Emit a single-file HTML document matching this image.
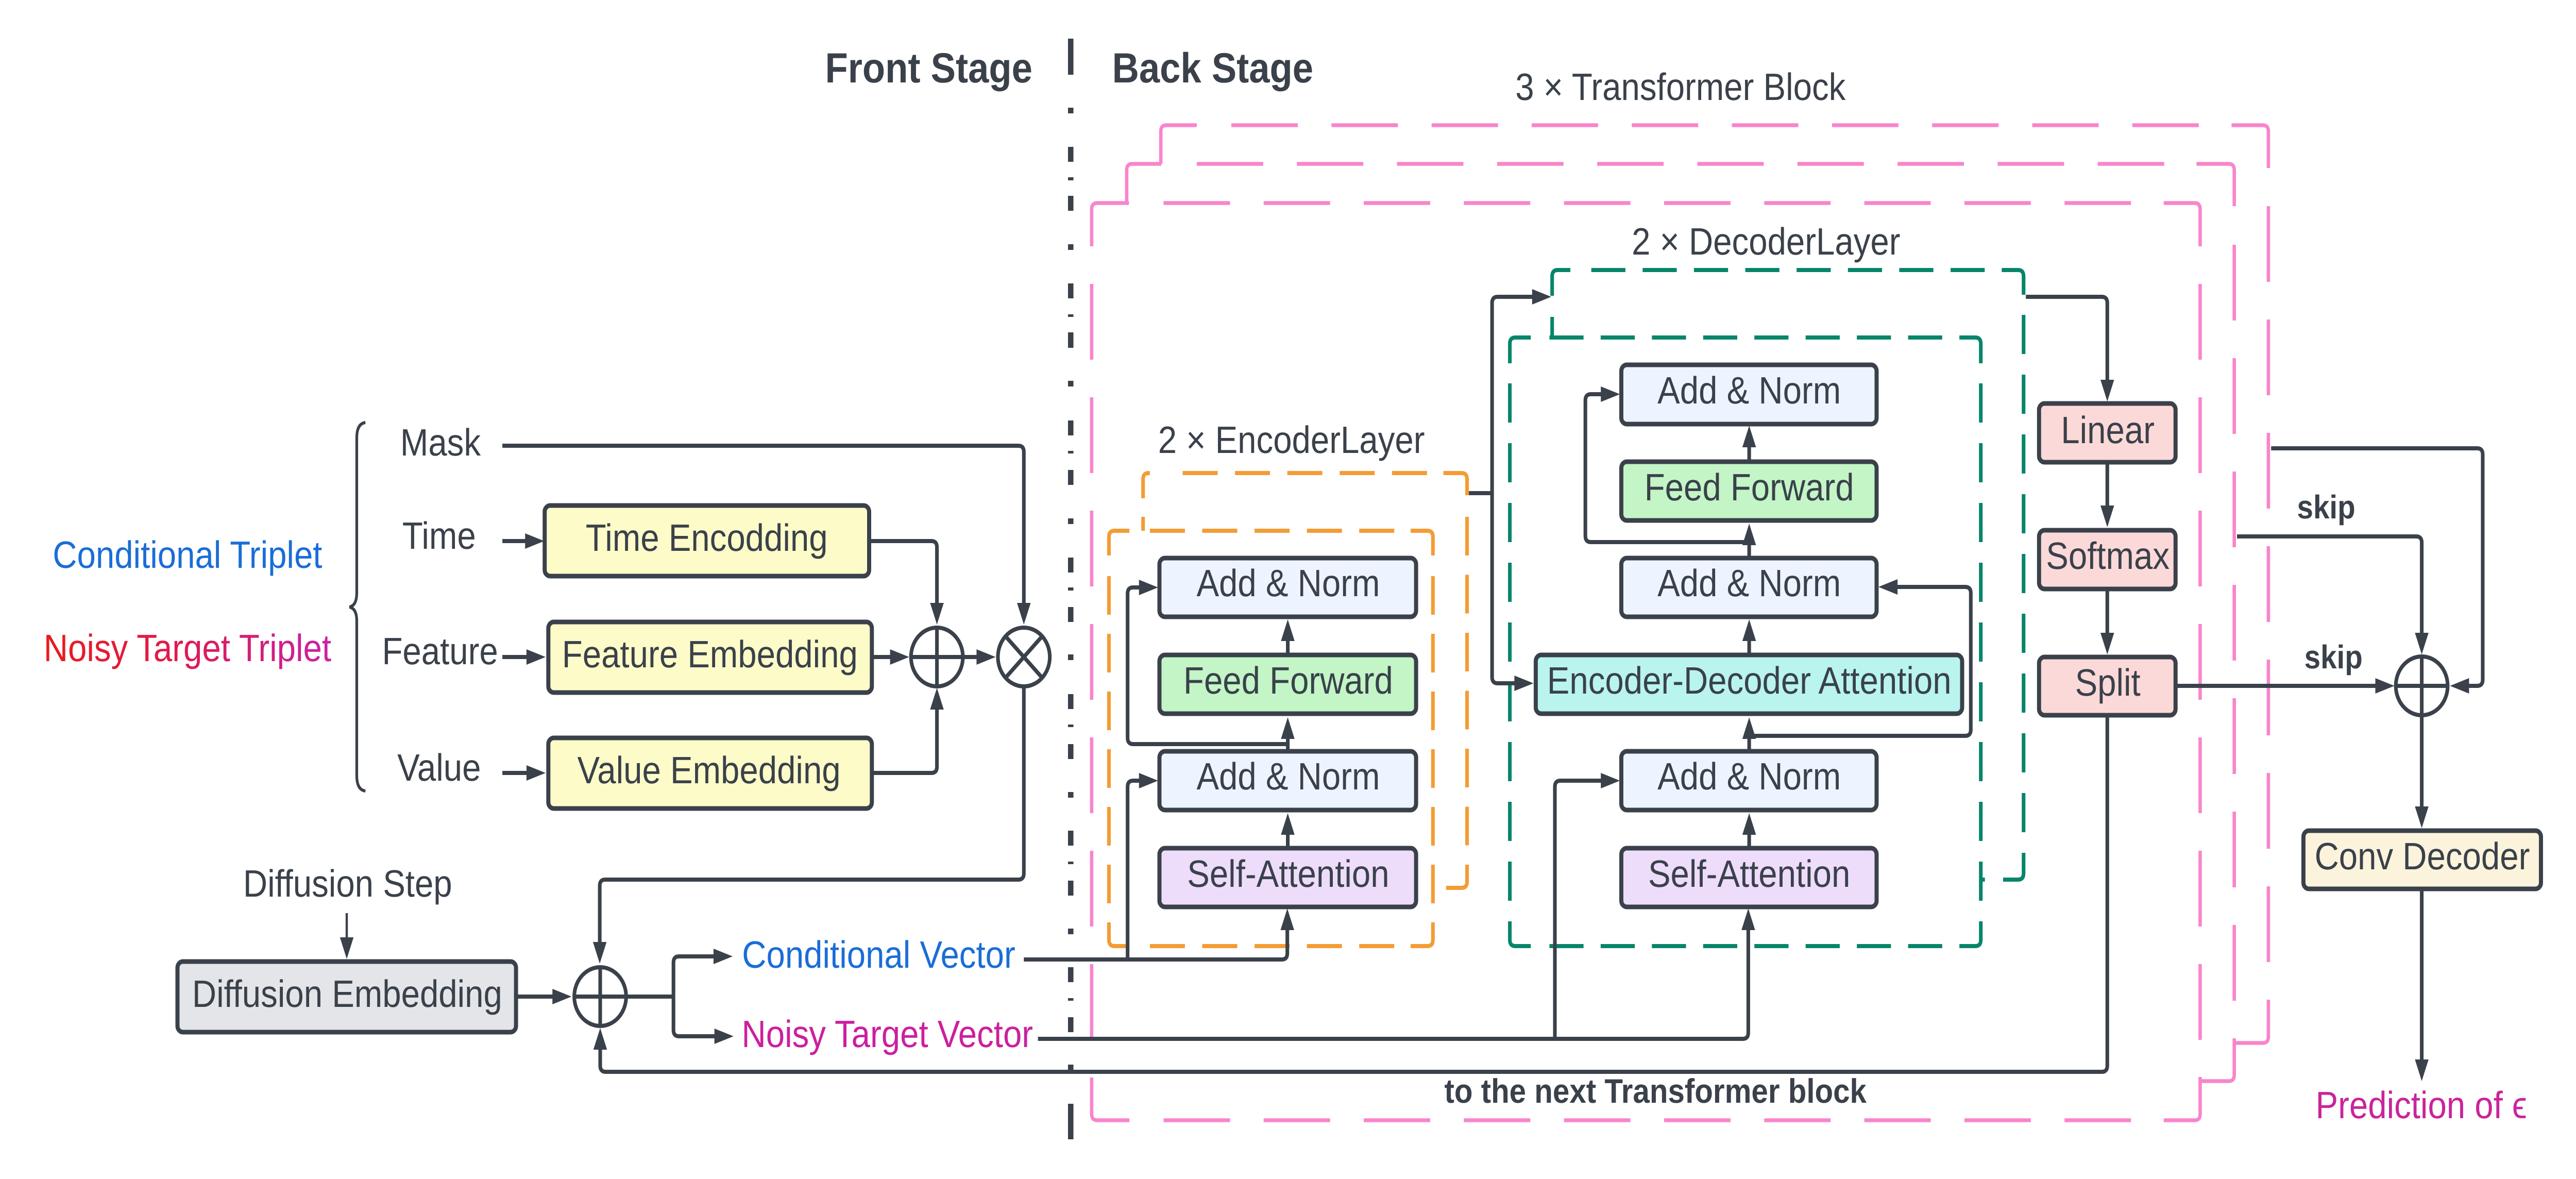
<!DOCTYPE html>
<html>
<head>
<meta charset="utf-8">
<style>
html,body{margin:0;padding:0;background:#fff;width:100%;height:100%;overflow:hidden}
svg{display:block;position:fixed;left:0;top:0;width:100vw;height:100vh}
text{font-family:"Liberation Sans",sans-serif;font-size:74px;fill:#3a414a;text-anchor:middle}
.b{font-weight:700}
.box{stroke:#3a414a;stroke-width:9}
.l{fill:none;stroke:#3a414a;stroke-width:8;stroke-linejoin:round}
.a{marker-end:url(#ah)}
.p{fill:none;stroke:#f985cc;stroke-width:7.5}
.o{fill:none;stroke:#f39c34;stroke-width:8}
.g{fill:none;stroke:#07856a;stroke-width:8}
.c{fill:#fff;stroke:#3a414a;stroke-width:8}
</style>
</head>
<body>
<svg viewBox="0 0 5661 2288" preserveAspectRatio="none" xmlns="http://www.w3.org/2000/svg" text-rendering="geometricPrecision">
<defs>
<marker id="ah" markerUnits="userSpaceOnUse" markerWidth="44" markerHeight="30" refX="22" refY="15" orient="auto" viewBox="0 0 44 30" overflow="visible"><path d="M0 0 L42 15 L0 30 Z" fill="#3a414a"/></marker>
<linearGradient id="grad" gradientUnits="userSpaceOnUse" x1="92" y1="0" x2="732" y2="0"><stop offset="0" stop-color="#ea1a1a"/><stop offset="0.45" stop-color="#e01a4a"/><stop offset="1" stop-color="#c822a8"/></linearGradient>
</defs>
<rect width="5661" height="2288" fill="#fff"/>

<!-- divider -->
<path fill="none" stroke="#3a414a" stroke-width="12" d="M2353 75V145M2353 209V220M2353 285V314M2353 344V350M2353 380V409M2353 474V485M2353 550V579M2353 610V615M2353 645V675M2353 739V750M2353 816V845M2353 875V880M2353 912V941M2353 1006V1017M2353 1082V1111M2353 1140V1146M2353 1178V1207M2353 1270V1281M2353 1347V1376M2353 1406V1411M2353 1444V1473M2353 1537V1548M2353 1612V1641M2353 1672V1677M2353 1709V1738M2353 1802V1813M2353 1877V1906M2353 1937V1942M2353 1974V2003M2353 2066V2079M2353 2142V2211"/>

<!-- pink frames -->
<path class="p" d="M2399 478V406Q2399 394 2411 394H2481M4755 394H4823Q4835 394 4835 406V478M2399 2093V2162Q2399 2174 2411 2174H2482M4755 2174H4823Q4835 2174 4835 2162V2090"/>
<path class="p" stroke-dasharray="146 74" d="M2557 394H4755M2557 2174H4755"/>
<path class="p" stroke-dasharray="147 73" d="M2399 551V2093M4835 551V2093"/>
<path class="p" d="M2476 394V330Q2476 318 2488 318H2552M4827 318H4898Q4910 318 4910 330V400M4910 2015V2086Q4910 2098 4898 2098H4835"/>
<path class="p" stroke-dasharray="146 74" d="M2630 318H4827"/>
<path class="p" stroke-dasharray="147 73" d="M4910 475V2015"/>
<path class="p" d="M2551 318V255Q2551 243 2563 243H2630M4904 243H4973Q4985 243 4985 255V326M4985 1940V2012Q4985 2024 4973 2024H4910"/>
<path class="p" stroke-dasharray="146 74" d="M2706 243H4904"/>
<path class="p" stroke-dasharray="147 73" d="M4985 400V1940"/>

<!-- orange frames -->
<path class="o" d="M2512 967V930Q2512 918 2524 918H2527M2512 1003V1030M3172 918H3212Q3224 918 3224 930V961M3224 1678V1711Q3224 1723 3212 1723H3178"/>
<path class="o" stroke-dasharray="77 38" d="M2599 918H3172"/>
<path class="o" stroke-dasharray="75 37.5" d="M3224 1003V1678"/>
<path class="o" d="M2437 1078V1042Q2437 1030 2449 1030H2482M3100 1030H3137Q3149 1030 3149 1042V1078M2437 1790V1824Q2437 1836 2449 1836H2482M3100 1836H3137Q3149 1836 3149 1824V1790"/>
<path class="o" stroke-dasharray="77 38" d="M2527 1030H3100M2527 1836H3100"/>
<path class="o" stroke-dasharray="75 37" d="M2437 1118V1790M3149 1118V1790"/>

<!-- green frames -->
<path class="g" d="M3411 574V536Q3411 524 3423 524H3451M3411 615V655M4399 524H4435Q4447 524 4447 536V572M4447 1656V1695Q4447 1707 4435 1707H4402M4353 1707H4362"/>
<path class="g" stroke-dasharray="75 37.8" d="M3497 524H4399"/>
<path class="g" stroke-dasharray="76 40" d="M4447 611V1656"/>
<path class="g" d="M3318 705V667Q3318 655 3330 655H3364M4306 655H4341Q4353 655 4353 667V705M3318 1788V1824Q3318 1836 3330 1836H3364M4306 1836H4341Q4353 1836 4353 1824V1788"/>
<path class="g" stroke-dasharray="75 37.6" d="M3405 655H4306M3405 1836H4306"/>
<path class="g" stroke-dasharray="76 40" d="M3318 744V1788M4353 744V1788"/>

<!-- brace -->
<path fill="none" stroke="#3a414a" stroke-width="6" d="M803 820Q784 822 784 850V1150Q784 1175 768 1178Q784 1181 784 1205V1505Q784 1533 803 1535"/>

<!-- connectors -->
<path class="l a" d="M1104 865H2238Q2250 865 2250 877V1192"/>
<path class="l a" d="M1104 1050H1176"/>
<path class="l a" d="M1104 1275H1179"/>
<path class="l a" d="M1104 1500H1179"/>
<path class="l a" d="M1910 1050H2047Q2059 1050 2059 1062V1192"/>
<path class="l a" d="M1916 1275H1978"/>
<path class="l a" d="M2115 1275H2168"/>
<path class="l a" d="M1916 1500H2047Q2059 1500 2059 1488V1355"/>
<path class="l a" d="M2250 1332V1695Q2250 1707 2238 1707H1330Q1318 1707 1318 1719V1850"/>
<path class="l a" style="stroke-width:5" d="M762 1772V1841"/>
<path class="l a" d="M1134 1934H1236"/>
<path class="l" d="M1376 1934H1480"/>
<path class="l a" d="M1480 1934V1868Q1480 1856 1492 1856H1590"/>
<path class="l a" d="M1480 1934V1999Q1480 2011 1492 2011H1592"/>
<path class="l a" d="M4631 1388V2068Q4631 2080 4619 2080H1331Q1319 2080 1319 2068V2015"/>
<path class="l a" d="M2250 1862H2817Q2829 1862 2829 1850V1783"/>
<path class="l a" d="M2478 1862V1527Q2478 1515 2490 1515H2525"/>
<path class="l a" d="M2281 2016H3830Q3842 2016 3842 2004V1783"/>
<path class="l a" d="M3417 2016V1527Q3417 1515 3429 1515H3540"/>
<path class="l a" d="M2830 1646V1598"/>
<path class="l a" d="M2830 1458V1412"/>
<path class="l a" d="M2830 1271V1222"/>
<path class="l a" d="M2830 1444H2490Q2478 1444 2478 1432V1152Q2478 1140 2490 1140H2525"/>
<path class="l a" d="M3844 1646V1598"/>
<path class="l a" d="M3844 1458V1412"/>
<path class="l a" d="M3844 1271V1222"/>
<path class="l a" d="M3844 1083V1036"/>
<path class="l a" d="M3844 896V846"/>
<path class="l a" d="M3844 1052H3496Q3484 1052 3484 1040V777Q3484 765 3496 765H3540"/>
<path class="l" d="M3228 957H3279"/>
<path class="l a" d="M3279 957V588Q3279 576 3291 576H3389"/>
<path class="l a" d="M3279 957V1314Q3279 1326 3291 1326H3350"/>
<path class="l a" d="M3851 1428H4319Q4331 1428 4331 1416V1151Q4331 1139 4319 1139H4148"/>
<path class="l a" d="M4452 576H4619Q4631 576 4631 588V759"/>
<path class="l a" d="M4631 897V1003"/>
<path class="l a" d="M4631 1143V1250"/>
<path class="l a" d="M4781 1331H5242"/>
<path class="l a" d="M5322 1389V1587"/>
<path class="l a" d="M5322 1725V2078"/>
<path class="l a" d="M4916 1041H5310Q5322 1041 5322 1053V1250"/>
<path class="l a" d="M4991 870H5444Q5456 870 5456 882V1319Q5456 1331 5444 1331H5404"/>

<!-- circles -->
<circle class="c" cx="2059" cy="1275" r="57"/><path class="l" d="M2002 1275H2116M2059 1218V1332"/>
<circle class="c" cx="2250" cy="1275" r="57"/><path class="l" d="M2210 1235L2290 1315M2290 1235L2210 1315"/>
<circle class="c" cx="1319" cy="1934" r="57"/><path class="l" d="M1262 1934H1376M1319 1877V1991"/>
<circle class="c" cx="5322" cy="1331" r="57"/><path class="l" d="M5265 1331H5379M5322 1274V1388"/>

<!-- boxes -->
<rect class="box" x="1197" y="981" width="713" height="137" rx="12" fill="#fdfcc9"/>
<rect class="box" x="1205" y="1207" width="711" height="137" rx="12" fill="#fdfcc9"/>
<rect class="box" x="1205" y="1432" width="711" height="137" rx="12" fill="#fdfcc9"/>
<rect class="box" x="390" y="1866" width="744" height="137" rx="12" fill="#e3e5e9"/>

<rect class="box" x="2548" y="1083" width="564" height="114" rx="12" fill="#eef4ff"/>
<rect class="box" x="2548" y="1271" width="564" height="114" rx="12" fill="#c3f5c7"/>
<rect class="box" x="2548" y="1458" width="564" height="114" rx="12" fill="#eef4ff"/>
<rect class="box" x="2548" y="1646" width="564" height="114" rx="12" fill="#eedcfb"/>

<rect class="box" x="3563" y="708" width="561" height="115" rx="12" fill="#eef4ff"/>
<rect class="box" x="3563" y="896" width="561" height="114" rx="12" fill="#c3f5c7"/>
<rect class="box" x="3563" y="1083" width="561" height="114" rx="12" fill="#eef4ff"/>
<rect class="box" x="3375" y="1271" width="937" height="114" rx="12" fill="#b9f4ee"/>
<rect class="box" x="3563" y="1458" width="561" height="114" rx="12" fill="#eef4ff"/>
<rect class="box" x="3563" y="1646" width="561" height="114" rx="12" fill="#eedcfb"/>

<rect class="box" x="4481" y="783" width="300" height="114" rx="12" fill="#fcd9d9"/>
<rect class="box" x="4481" y="1029" width="300" height="114" rx="12" fill="#fcd9d9"/>
<rect class="box" x="4481" y="1275" width="300" height="113" rx="12" fill="#fcd9d9"/>
<rect class="box" x="5062" y="1612" width="522" height="113" rx="12" fill="#fbf3dc"/>

<!-- text -->
<text class="b" style="font-size:82px" x="2041" y="160">Front Stage</text>
<text class="b" style="font-size:82px" x="2665" y="160">Back Stage</text>
<text x="3693" y="194">3 × Transformer Block</text>
<text x="3881" y="494">2 × DecoderLayer</text>
<text x="2838" y="879">2 × EncoderLayer</text>
<text x="968" y="884">Mask</text>
<text x="965" y="1065">Time</text>
<text x="967" y="1289">Feature</text>
<text x="965" y="1515">Value</text>
<text x="412" y="1102" style="fill:#1a6dd8">Conditional Triplet</text>
<text x="412" y="1283" style="fill:url(#grad)">Noisy Target Triplet</text>
<text x="1553" y="1069">Time Encodding</text>
<text x="1560" y="1295">Feature Embedding</text>
<text x="1558" y="1520">Value Embedding</text>
<text x="764" y="1740">Diffusion Step</text>
<text x="763" y="1954">Diffusion Embedding</text>
<text x="1931" y="1878" style="fill:#1a6dd8">Conditional Vector</text>
<text x="1950" y="2032" style="fill:#cc1f9f">Noisy Target Vector</text>

<text x="2831" y="1157">Add &amp; Norm</text>
<text x="2831" y="1346">Feed Forward</text>
<text x="2831" y="1532">Add &amp; Norm</text>
<text x="2831" y="1721">Self-Attention</text>

<text x="3844" y="783">Add &amp; Norm</text>
<text x="3844" y="971">Feed Forward</text>
<text x="3844" y="1157">Add &amp; Norm</text>
<text x="3844" y="1346">Encoder-Decoder Attention</text>
<text x="3844" y="1532">Add &amp; Norm</text>
<text x="3844" y="1721">Self-Attention</text>

<text x="4632" y="860">Linear</text>
<text x="4632" y="1104">Softmax</text>
<text x="4632" y="1350">Split</text>
<text x="5323" y="1687">Conv Decoder</text>
<text x="5321" y="2170" style="fill:#c9249c">Prediction of ϵ</text>

<text class="b" style="font-size:64px" x="5112" y="1006">skip</text>
<text class="b" style="font-size:64px" x="5128" y="1297">skip</text>
<text class="b" style="font-size:66px" x="3638" y="2140">to the next Transformer block</text>
</svg>
</body>
</html>
